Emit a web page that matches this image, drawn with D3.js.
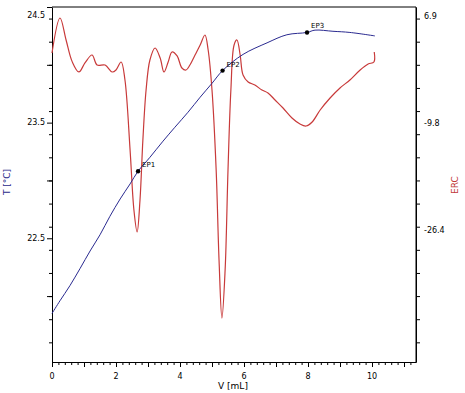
<!DOCTYPE html>
<html>
<head>
<meta charset="utf-8">
<script src="https://cdn.jsdelivr.net/npm/d3@7"></script>
<style>
  body { margin: 0; background: #fff; }
  svg text { font-family: "DejaVu Sans", Verdana, sans-serif; }
</style>
</head>
<body>
<div id="chart"></div>
<script>
// Titration curve: temperature (left axis) and ERC (right axis) vs volume

// Temperature curve
const tempV = [0, 0.25, 0.56, 0.88, 1.19, 1.5, 1.81, 2.13, 2.44, 2.69, 3.06, 3.47, 3.84, 4.25, 4.63, 5.0, 5.33, 5.97, 6.72, 7.34, 7.97, 8.22, 8.78, 9.31, 10.09];
const tempT = [21.85, 21.96, 22.09, 22.24, 22.39, 22.53, 22.69, 22.84, 22.97, 23.08, 23.20, 23.34, 23.46, 23.59, 23.72, 23.84, 23.95, 24.09, 24.19, 24.26, 24.28, 24.30, 24.29, 24.28, 24.25];

// ERC curve
const ercV = [0, 0.25, 0.44, 0.63, 0.84, 1.03, 1.25, 1.41, 1.66, 1.88, 2.0, 2.16, 2.28, 2.44, 2.56, 2.66, 2.75, 2.84, 2.94, 3.06, 3.22, 3.38, 3.5, 3.63, 3.75, 3.91, 4.06, 4.19, 4.31, 4.47, 4.63, 4.78, 4.88, 5.0, 5.13, 5.22, 5.31, 5.41, 5.5, 5.59, 5.69, 5.78, 5.88, 5.97, 6.13, 6.34, 6.56, 6.75, 6.97, 7.22, 7.5, 7.75, 7.94, 8.13, 8.38, 8.69, 9.0, 9.31, 9.63, 9.88, 10.06, 10.07];
const ercVal = [1.14, 6.59, 3.17, -0.2, -1.81, -0.41, 0.83, -0.73, -0.73, -1.81, -1.50, -0.26, -3.06, -13.95, -23.29, -26.71, -21.73, -12.40, -4.62, 0.05, 1.92, 0.36, -1.81, -0.26, 1.30, 0.68, -1.19, -1.50, -0.73, 0.83, 2.39, 3.94, 1.61, -4.62, -17.07, -31.07, -40.10, -32.63, -17.07, -4.62, 2.39, 3.17, 0.83, -2.28, -3.37, -3.84, -4.62, -5.08, -6.17, -7.42, -8.97, -9.91, -10.22, -9.60, -7.73, -5.86, -4.30, -3.06, -1.50, -0.57, -0.26, 1.30];

// End points
const epNames = ["EP1", "EP2", "EP3"];
const epV = [2.69, 5.33, 7.97];
const epT = [23.08, 23.95, 24.28];

// Axis ticks
const xLabels = [0, 2, 4, 6, 8, 10];
const tLabels = [22.5, 23.5, 24.5];
const ercLabels = [6.9, -9.8, -26.4];

const width = 465, height = 393;
const plotLeft = 52, plotRight = 416, plotTop = 7, plotBottom = 362;

const svg = d3.select("#chart").append("svg")
  .attr("width", width)
  .attr("height", height);

const x = d3.scaleLinear().domain([0, 11.375]).range([plotLeft, plotRight]);
const yT = d3.scaleLinear().domain([21.43, 24.5]).range([plotBottom, plotTop]);
const yE = d3.scaleLinear().domain([-46.94, 8.3]).range([plotBottom, plotTop]);

// frame (top + right)
svg.append("path")
  .attr("d", `M${plotLeft},${plotTop}H${plotRight}V${plotBottom}`)
  .attr("fill", "none")
  .attr("stroke", "#000")
  .attr("stroke-width", 1);

// x axis
const xMinor = d3.range(0, 11.3, 0.2);
const xAxis = svg.append("g").attr("transform", `translate(0,${plotBottom})`);
xAxis.call(d3.axisBottom(x).tickValues(xMinor).tickSize(3).tickFormat("").tickSizeOuter(0));
xAxis.append("g").call(d3.axisBottom(x).tickValues(d3.range(0, 12, 1)).tickSize(5).tickFormat("").tickSizeOuter(0))
  .select(".domain").remove();
xAxis.selectAll(".xl").data(xLabels).join("text")
  .attr("class", "xl")
  .attr("x", d => x(d))
  .attr("y", 17)
  .attr("text-anchor", "middle")
  .attr("font-size", 8)
  .attr("fill", "#000")
  .text(d => d);

svg.append("text")
  .attr("x", 233)
  .attr("y", 389)
  .attr("text-anchor", "middle")
  .attr("font-size", 9)
  .attr("fill", "#000")
  .text("V [mL]");

// left axis (temperature)
const tMinor = d3.range(21.6, 24.5, 0.2);
const tAxis = svg.append("g").attr("transform", `translate(${plotLeft},0)`);
tAxis.call(d3.axisLeft(yT).tickValues(tMinor).tickSize(3).tickFormat("").tickSizeOuter(0));
tAxis.append("g").call(d3.axisLeft(yT).tickValues([22, 23, 24].concat(tLabels)).tickSize(5).tickFormat("").tickSizeOuter(0))
  .select(".domain").remove();
tAxis.selectAll(".tl").data(tLabels).join("text")
  .attr("class", "tl")
  .attr("x", -7)
  .attr("y", d => Math.max(yT(d), 15))
  .attr("dy", "0.35em")
  .attr("text-anchor", "end")
  .attr("font-size", 8)
  .attr("fill", "#000")
  .text(d => d.toFixed(1));

svg.append("text")
  .attr("transform", "translate(10,182) rotate(-90)")
  .attr("text-anchor", "middle")
  .attr("font-size", 9)
  .attr("fill", "#2a2a8a")
  .text("T [°C]");

// right axis (ERC), ticks share the temperature grid
const eMinor = tMinor.map(v => yE.invert(yT(v)));
const eAxis = svg.append("g").attr("transform", `translate(${plotRight},0)`);
eAxis.call(d3.axisRight(yE).tickValues(eMinor).tickSize(4).tickFormat("").tickSizeOuter(0));
eAxis.selectAll(".el").data(ercLabels).join("text")
  .attr("class", "el")
  .attr("x", 8)
  .attr("y", d => yE(d))
  .attr("dy", "0.35em")
  .attr("text-anchor", "start")
  .attr("font-size", 8)
  .attr("fill", "#000")
  .text(d => d.toFixed(1));

svg.append("text")
  .attr("transform", "translate(458,185) rotate(-90)")
  .attr("text-anchor", "middle")
  .attr("font-size", 9)
  .attr("fill", "#c03838")
  .text("ERC");

svg.selectAll(".tick line").attr("stroke", "#000");
svg.selectAll(".domain").attr("stroke", "#000");

// curves
const ercLine = d3.line()
  .x((d, i) => x(ercV[i]))
  .y(d => yE(d))
  .curve(d3.curveCatmullRom.alpha(0.5));

svg.append("path")
  .datum(ercVal)
  .attr("d", ercLine)
  .attr("fill", "none")
  .attr("stroke", "#c83a3a")
  .attr("stroke-width", 1.2);

const tempLine = d3.line()
  .x((d, i) => x(tempV[i]))
  .y(d => yT(d))
  .curve(d3.curveCatmullRom.alpha(0.5));

svg.append("path")
  .datum(tempT)
  .attr("d", tempLine)
  .attr("fill", "none")
  .attr("stroke", "#2a2a90")
  .attr("stroke-width", 1);

// end points
svg.selectAll(".ep").data(epNames).join("circle")
  .attr("class", "ep")
  .attr("cx", (d, i) => x(epV[i]))
  .attr("cy", (d, i) => yT(epT[i]))
  .attr("r", 2.2)
  .attr("fill", "#000");

svg.selectAll(".epl").data(epNames).join("text")
  .attr("class", "epl")
  .attr("x", (d, i) => x(epV[i]) + 4)
  .attr("y", (d, i) => yT(epT[i]) - 4)
  .attr("font-size", 7)
  .attr("fill", "#000")
  .text(d => d);
</script>
</body>
</html>
